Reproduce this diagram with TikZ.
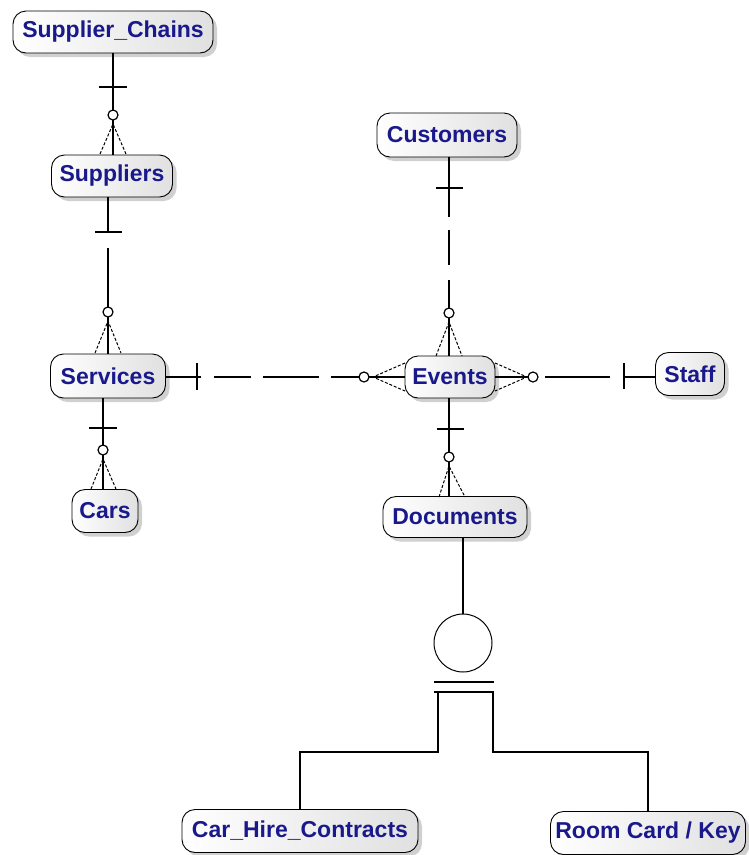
\documentclass[tikz,border=0pt]{standalone}
\usepackage{fontspec}
\setmainfont{Liberation Sans}
\usetikzlibrary{shadows}
\definecolor{txtblue}{RGB}{25,25,140}
\begin{document}
\begin{tikzpicture}[x=1pt,y=-1pt,
 entity/.style={draw=black, line width=0.9pt, rounded corners=13pt, left color=white, right color=black!12,
   drop shadow={shadow xshift=4pt,shadow yshift=-4pt,fill=black!30,opacity=0.6},
   font=\fontsize{23}{23}\selectfont\bfseries, text=txtblue, inner sep=0pt, minimum height=42pt},
 conn/.style={line width=1.1pt},
 foot/.style={line width=1pt, dash pattern=on 3pt off 1.8pt},
 ocirc/.style={line width=1.2pt, fill=white}]
\useasboundingbox (0,0) rectangle (748,855);
\fill[white] (0,0) rectangle (748,855);

% entities
\node[entity, minimum width=200pt] (sc) at (113,32) {Supplier\_Chains};
\node[entity, minimum width=121pt] (sup) at (112,176) {Suppliers};
\node[entity, minimum width=115pt, minimum height=44pt] (ser) at (108,376) {Services};
\node[entity, minimum width=66pt, minimum height=43pt] (cars) at (105,511) {Cars};
\node[entity, minimum width=140pt, minimum height=44pt] (cus) at (447,135) {Customers};
\node[entity, minimum width=90pt] (ev) at (450,377) {Events};
\node[entity, minimum width=69pt, minimum height=43pt] (staff) at (690,374) {Staff};
\node[entity, minimum width=144pt, minimum height=41pt] (doc) at (455,517) {Documents};
\node[entity, minimum width=236pt, minimum height=43pt] (chc) at (300,831) {Car\_Hire\_Contracts};
\node[entity, minimum width=195pt, minimum height=43pt] (rck) at (648,833) {Room Card / Key};

\coordinate (x103) at (103,0);
\coordinate (x449) at (449,0);
\coordinate (y752) at (0,752);

% Supplier_Chains -- Suppliers
\draw[conn] (sc.south) -- (sc.south |- sup.north);
\draw[conn] (99,87) -- (127,87);
\draw[foot] (100,154) -- (113,124) -- (126,154);
\draw[ocirc] (113,115) circle (5);

% Suppliers -- Services
\draw[conn, dash pattern=on 36pt off 15pt on 300pt] (ser.north |- sup.south) -- (ser.north);
\draw[conn] (95,232) -- (122,232);
\draw[foot] (95,353) -- (108,321) -- (121,353);
\draw[ocirc] (108,312) circle (5);

% Services -- Cars
\draw[conn] (ser.south -| x103) -- (cars.north -| x103);
\draw[conn] (89,428) -- (117,428);
\draw[foot] (91,489) -- (103,459) -- (116,489);
\draw[ocirc] (103,450) circle (5);

% Services -- Events
\draw[conn, dash pattern=on 35pt off 13pt on 37pt off 12pt on 56pt off 12pt on 90pt] (ser.east |- ev.west) -- (ev.west);
\draw[conn] (197,363) -- (197,390);
\draw[foot] (405,363) -- (373,377) -- (405,391);
\draw[ocirc] (364,377) circle (5);

% Customers -- Events
\draw[conn, dash pattern=on 60pt off 13pt on 35pt off 15pt on 200pt] (cus.south -| x449) -- (ev.north -| x449);
\draw[conn] (436,188) -- (463,188);
\draw[foot] (436,356) -- (449,322) -- (462,356);
\draw[ocirc] (449,313) circle (5);

% Events -- Staff
\draw[conn, dash pattern=on 43pt off 7pt on 65pt off 14pt on 60pt] (ev.east) -- (ev.east -| staff.west);
\draw[conn] (624,363) -- (624,389);
\draw[foot] (495,363) -- (527,377) -- (495,391);
\draw[ocirc] (533,377) circle (5);

% Events -- Documents
\draw[conn] (ev.south -| x449) -- (doc.north -| x449);
\draw[conn] (437,429) -- (464,429);
\draw[foot] (439,497) -- (449,466) -- (465,497);
\draw[ocirc] (449,457) circle (5);

% Category
\node[circle, draw, line width=1pt, minimum size=58pt, inner sep=0pt] (cat) at (463,643) {};
\draw[conn] (doc.south -| cat.north) -- (cat.north);
\draw[conn] (434,682) -- (494,682);
\draw[conn] (434,692) -- (494,692);
\coordinate (barL) at (438,692);
\coordinate (barR) at (493,692);
\draw[conn] (barL) -- (barL |- y752) -| (chc.north);
\draw[conn] (barR) -- (barR |- y752) -| (rck.north);
\end{tikzpicture}
\end{document}
